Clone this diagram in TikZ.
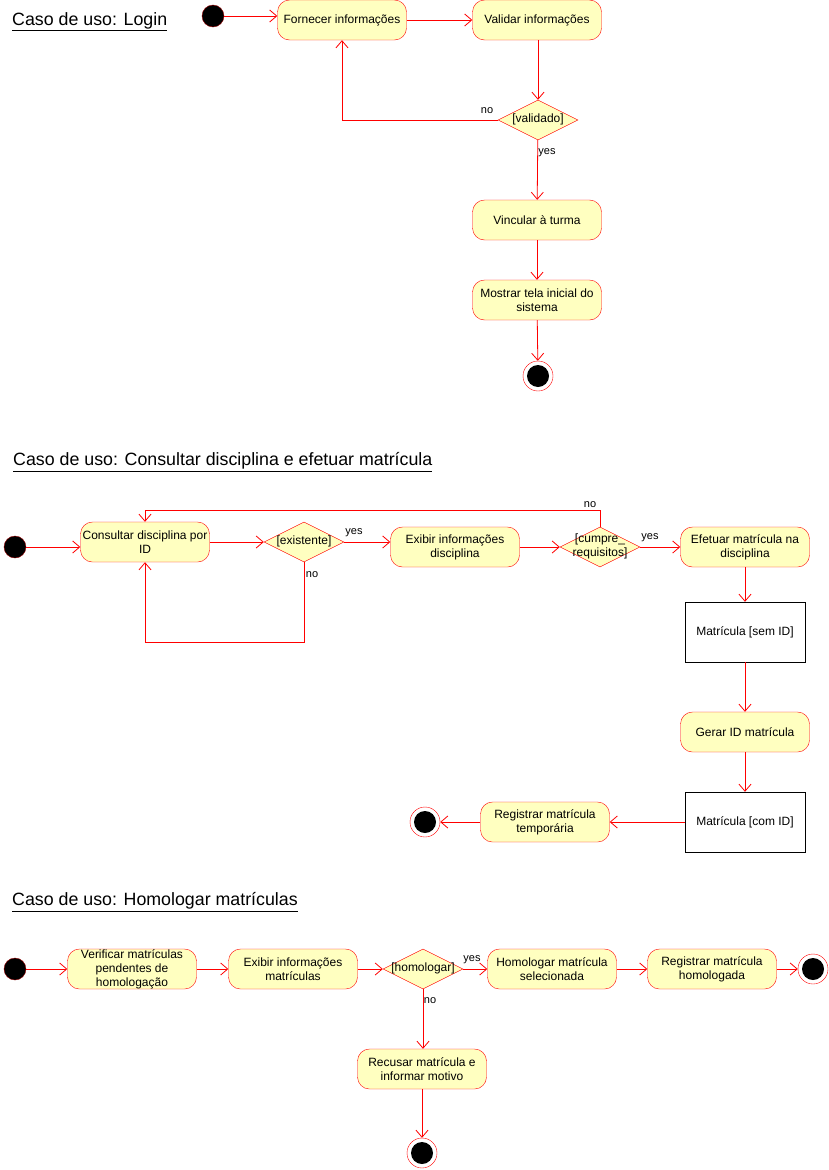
\documentclass[tikz,border=0pt]{standalone}
\usepackage{fontspec}
\setmainfont{Liberation Sans}
\usetikzlibrary{arrows.meta,shapes.geometric}
\definecolor{actfill}{HTML}{FFFFC0}
\definecolor{umlred}{HTML}{FF0000}
\newcommand{\dtext}[1]{\makebox[0pt]{\begin{tabular}{@{}c@{}}#1\end{tabular}}}
\begin{document}
\begin{tikzpicture}[x=1pt,y=-1pt,
 act/.style={draw=umlred, fill=actfill, rounded corners=12pt, minimum width=129pt, minimum height=40pt, inner sep=0pt, align=center, font=\fontsize{12}{14}\selectfont},
 dec/.style={draw=umlred, fill=actfill, diamond, aspect=2, minimum width=80pt, minimum height=40pt, inner sep=0pt, font=\fontsize{12}{14}\selectfont},
 obj/.style={draw=black, fill=white, minimum width=120pt, minimum height=60pt, inner sep=0pt, font=\fontsize{12}{14}\selectfont},
 startnode/.style={circle, fill=black, draw=umlred!60!black, minimum size=22pt, inner sep=0pt},
 stopnode/.style={circle, draw=umlred, fill=white, minimum size=30pt, inner sep=0pt, path picture={\fill[black] (path picture bounding box.center) circle (11pt);}},
 flow/.style={draw=umlred, -{Straight Barb[length=7pt,width=12pt]}, line width=0.8pt},
 lbl/.style={font=\fontsize{11}{13}\selectfont, inner sep=0pt},
 title/.style={font=\fontsize{17.8}{21}\selectfont, anchor=west, inner sep=0pt}
]
\useasboundingbox (0,0) rectangle (828,1170);

% ---------- Login ----------
\node[title] (t1) at (12,22) {\underline{Caso de uso: Login}};
\node[startnode] (s1) at (213,16) {};
\node[act] (fi) at (342,20) {Fornecer informações};
\node[act] (va) at (537,20) {Validar informações};
\node[dec] (d1) at (538,120) {\dtext{[validado]}};
\node[act] (vi) at (537,220) {Vincular à turma};
\node[act] (mo) at (537,300) {Mostrar tela inicial do\\sistema};
\node[stopnode] (e1) at (538,376) {};

\draw[flow] (s1.east) -- (s1.east -| fi.west);
\draw[flow] (fi) -- (va);
\draw[flow] (va.south -| d1.north) -- (d1.north);
\draw[flow] (d1.west) -| (fi.south);
\node[lbl] (n1) at (487,111) {no};
\draw[flow] (d1) -- (vi);
\node[lbl] (y1) at (547,153) {yes};
\draw[flow] (vi) -- (mo);
\draw[flow] (mo) -- (e1);

% ---------- Consultar disciplina ----------
\node[title] (t2) at (13,462) {\underline{Caso de uso: Consultar disciplina e efetuar matrícula}};
\node[startnode] (s2) at (15,547) {};
\node[act] (co) at (145,542) {Consultar disciplina por\\ID};
\node[dec] (d2) at (304,542) {\dtext{[existente]}};
\node[act] (ex) at (455,547) {Exibir informações\\disciplina};
\node[dec] (d3) at (600,547) {\dtext{[cumpre\_\\requisitos]}};
\node[act] (ef) at (745,547) {Efetuar matrícula na\\disciplina};
\node[obj] (ms) at (745,632) {Matrícula [sem ID]};
\node[act] (ge) at (745,732) {Gerar ID matrícula};
\node[obj] (mc) at (745,822) {Matrícula [com ID]};
\node[act] (rt) at (545,822) {Registrar matrícula\\temporária};
\node[stopnode] (e2) at (425,822) {};

\draw[flow] (s2.east) -- (s2.east -| co.west);
\draw[flow] (co) -- (d2);
\draw[flow] (d2.east) -- (d2.east -| ex.west);
\node[lbl] (y2) at (354,533) {yes};
\draw[flow] (d2.south) -- ++(0,80) -| (co.south);
\node[lbl] (n2) at (312,575) {no};
\draw[flow] (ex) -- (d3);
\draw[flow] (d3) -- (ef);
\node[lbl] (y3) at (650,538) {yes};
\draw[flow] (d3.north) -- ++(0,-16) -| (co.north);
\node[lbl] (n3) at (590,505) {no};
\draw[flow] (ef) -- (ms);
\draw[flow] (ms) -- (ge);
\draw[flow] (ge) -- (mc);
\draw[flow] (mc) -- (rt);
\draw[flow] (rt) -- (e2);

% ---------- Homologar ----------
\node[title] (t3) at (12,902) {\underline{Caso de uso: Homologar matrículas}};
\node[startnode] (s3) at (15,969) {};
\node[act] (ve) at (132,969) {Verificar matrículas\\pendentes de\\homologação};
\node[act] (eb) at (293,969) {Exibir informações\\matrículas};
\node[dec] (d4) at (423,969) {\dtext{[homologar]}};
\node[act] (ho) at (552,969) {Homologar matrícula\\selecionada};
\node[act] (rh) at (712,969) {Registrar matrícula\\homologada};
\node[stopnode] (e3) at (813,969) {};
\node[act] (re) at (422,1069) {Recusar matrícula e\\informar motivo};
\node[stopnode] (e4) at (422,1153) {};

\draw[flow] (s3) -- (ve);
\draw[flow] (ve) -- (eb);
\draw[flow] (eb) -- (d4);
\draw[flow] (d4) -- (ho);
\node[lbl] (y4) at (472,960) {yes};
\draw[flow] (ho) -- (rh);
\draw[flow] (rh) -- (e3);
\draw[flow] (d4.south) -- (d4.south |- re.north);
\node[lbl] (n4) at (430,1001) {no};
\draw[flow] (re) -- (e4);
\end{tikzpicture}
\end{document}
